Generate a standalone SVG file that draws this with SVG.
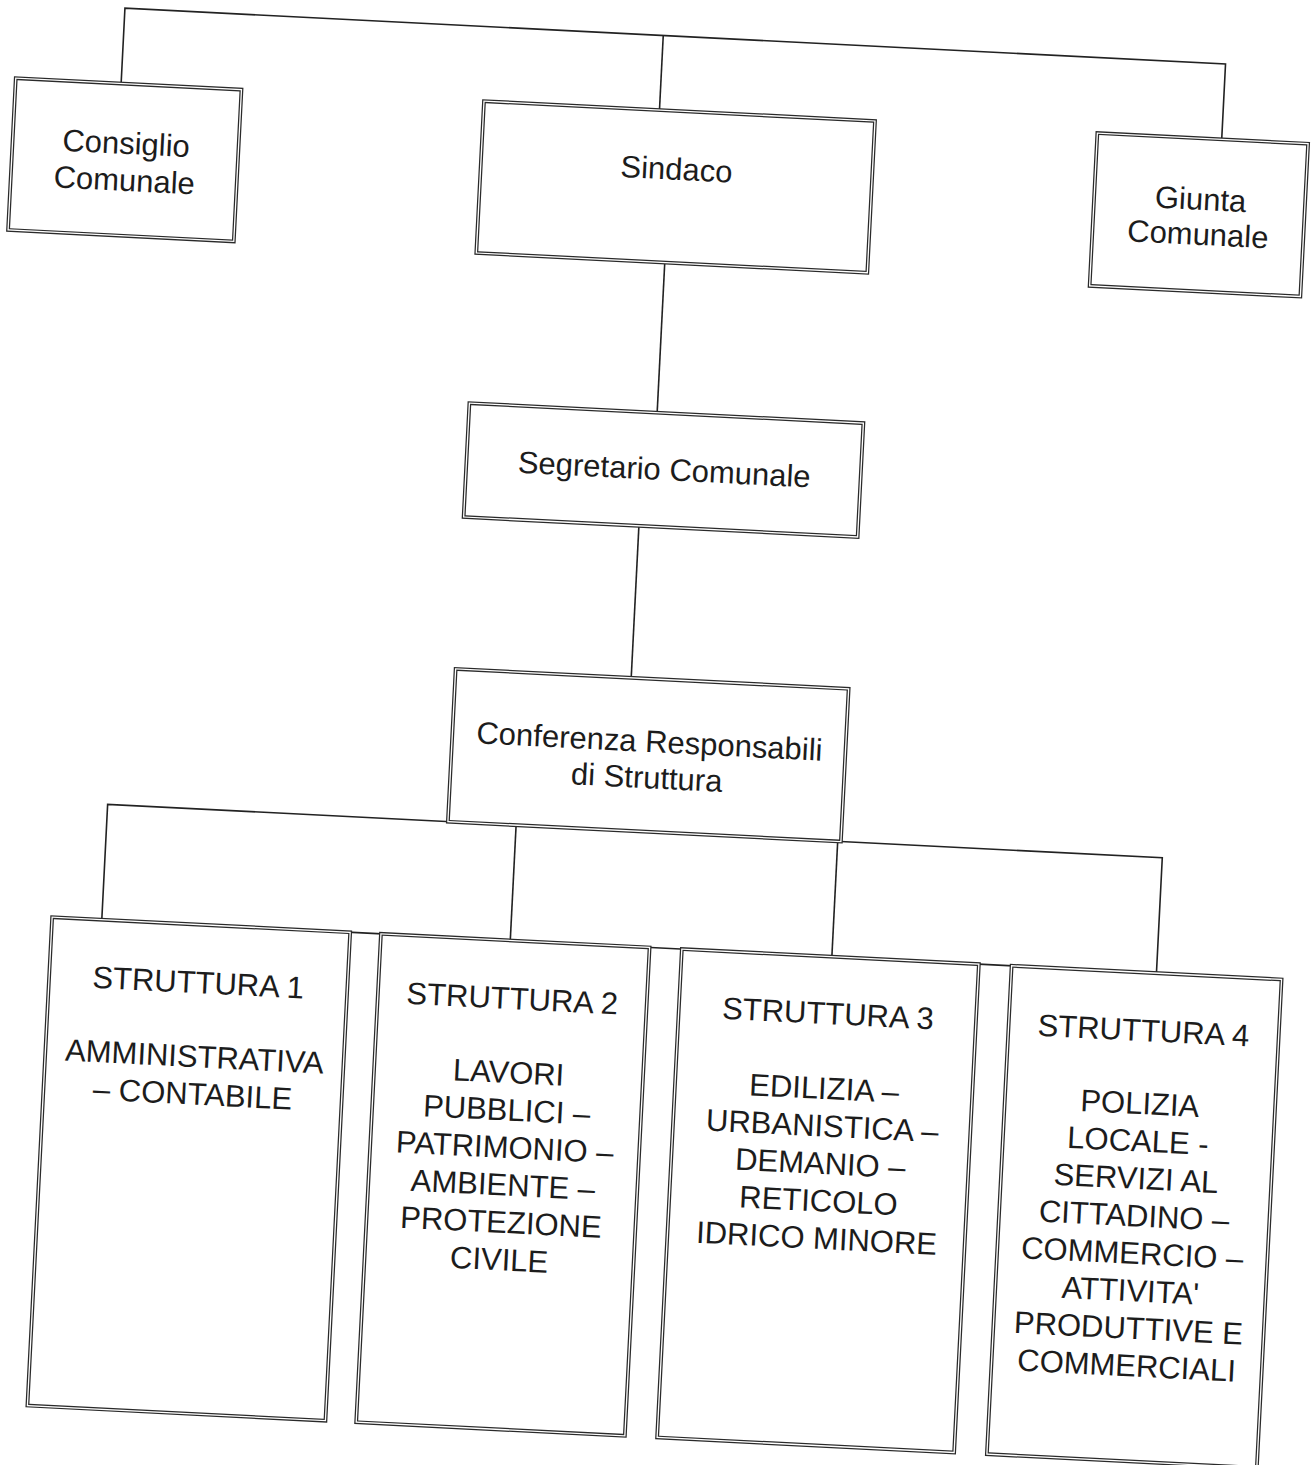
<svg xmlns="http://www.w3.org/2000/svg" width="1312" height="1465" viewBox="0 0 1312 1465">
<style>
.bg{fill:#ffffff}
.box{fill:#ffffff;stroke:#2a2a2a;stroke-width:3.8}
.gap{fill:none;stroke:#ffffff;stroke-width:1.3}
.con{fill:none;stroke:#222222;stroke-width:1.6}
.t{font-family:"Liberation Sans",Arial,sans-serif;font-size:31px;fill:#1c1c1c;text-anchor:middle}
</style>
<rect class="bg" x="0" y="0" width="1312" height="1465"/>
<g transform="rotate(2.9 656 732)">
<g id="connectors">
<path class="con" d="M89 111.4 V36 H1191 V111.5"/>
<path class="con" d="M628 36 V110.7"/>
<path class="con" d="M641 262.7 V413"/>
<path class="con" d="M628.5 527 V679.1"/>
<path class="con" d="M112 947.5 V832 H1168 V947.5"/>
<path class="con" d="M521 832 V947.5"/>
<path class="con" d="M843 832 V947.5"/>
<path class="con" d="M62.3 947.5 H1293.3"/>
</g>
<g id="consiglio">
<rect class="box" x="-16.5" y="111.4" width="226" height="152"/>
<rect class="gap" x="-16.5" y="111.4" width="226" height="152"/>
<text class="t" x="97" y="181.5">Consiglio</text>
<text class="t" x="97" y="218.5">Comunale</text>
</g>
<g id="sindaco">
<rect class="box" x="452.3" y="110.7" width="391.5" height="152"/>
<rect class="gap" x="452.3" y="110.7" width="391.5" height="152"/>
<text class="t" x="648" y="179.5">Sindaco</text>
</g>
<g id="giunta">
<rect class="box" x="1066.5" y="111.5" width="211" height="153"/>
<rect class="gap" x="1066.5" y="111.5" width="211" height="153"/>
<text class="t" x="1173" y="183">Giunta</text>
<text class="t" x="1172" y="218">Comunale</text>
</g>
<g id="segretario">
<rect class="box" x="453" y="413" width="394.5" height="114"/>
<rect class="gap" x="453" y="413" width="394.5" height="114"/>
<text class="t" x="651" y="480">Segretario Comunale</text>
</g>
<g id="conferenza">
<rect class="box" x="452.7" y="679.1" width="393.5" height="153"/>
<rect class="gap" x="452.7" y="679.1" width="393.5" height="153"/>
<text class="t" x="650" y="752.3">Conferenza Responsabili</text>
<text class="t" x="649" y="788.5">di Struttura</text>
</g>
<g id="struttura1">
<rect class="box" x="62.3" y="947.5" width="298.4" height="489"/>
<rect class="gap" x="62.3" y="947.5" width="298.4" height="489"/>
<text class="t" x="211.5" y="1016">STRUTTURA 1</text>
<text class="t" x="211.5" y="1090">AMMINISTRATIVA</text>
<text class="t" x="211.5" y="1127.5">– CONTABILE</text>
</g>
<g id="struttura2">
<rect class="box" x="391.5" y="947.5" width="269" height="489"/>
<rect class="gap" x="391.5" y="947.5" width="269" height="489"/>
<text class="t" x="526" y="1016">STRUTTURA 2</text>
<text class="t" x="526" y="1090">LAVORI</text>
<text class="t" x="526" y="1127.5">PUBBLICI –</text>
<text class="t" x="526" y="1165">PATRIMONIO –</text>
<text class="t" x="526" y="1202.5">AMBIENTE –</text>
<text class="t" x="526" y="1240">PROTEZIONE</text>
<text class="t" x="526" y="1277.5">CIVILE</text>
</g>
<g id="struttura3">
<rect class="box" x="692.8" y="947.5" width="297.4" height="489"/>
<rect class="gap" x="692.8" y="947.5" width="297.4" height="489"/>
<text class="t" x="842" y="1015">STRUTTURA 3</text>
<text class="t" x="842" y="1090">EDILIZIA –</text>
<text class="t" x="842" y="1127.5">URBANISTICA –</text>
<text class="t" x="842" y="1165">DEMANIO –</text>
<text class="t" x="842" y="1202.5">RETICOLO</text>
<text class="t" x="842" y="1240">IDRICO MINORE</text>
</g>
<g id="struttura4">
<rect class="box" x="1023" y="947.5" width="270.3" height="489"/>
<rect class="gap" x="1023" y="947.5" width="270.3" height="489"/>
<text class="t" x="1158" y="1016">STRUTTURA 4</text>
<text class="t" x="1158" y="1089">POLIZIA</text>
<text class="t" x="1158" y="1126.5">LOCALE -</text>
<text class="t" x="1158" y="1164">SERVIZI AL</text>
<text class="t" x="1158" y="1201.5">CITTADINO –</text>
<text class="t" x="1158" y="1239">COMMERCIO –</text>
<text class="t" x="1158" y="1276.5">ATTIVITA'</text>
<text class="t" x="1158" y="1314">PRODUTTIVE E</text>
<text class="t" x="1158" y="1351.5">COMMERCIALI</text>
</g>
</g>
</svg>
